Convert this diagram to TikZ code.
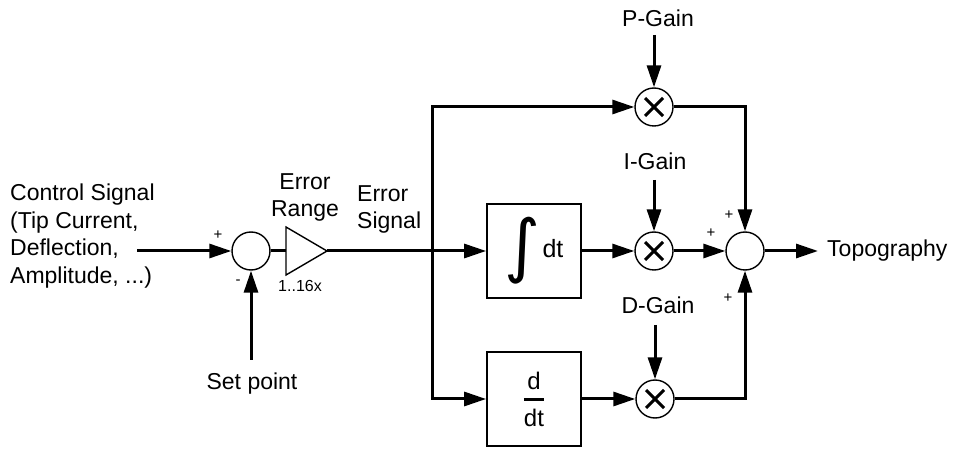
\documentclass[tikz,border=0pt]{standalone}
\usepackage{amsmath}
\usepackage{graphicx}
\usepackage{fontspec}
\setmainfont{Liberation Sans}
\newfontfamily\intfont{DejaVu Sans}
\usetikzlibrary{arrows.meta}
\begin{document}
\begin{tikzpicture}[x=1pt,y=-1pt,
  wire/.style={line width=3pt},
  arr/.style={line width=3pt,-{Triangle[length=22pt,width=14pt]}},
  junc/.style={circle,draw,line width=1.4pt,minimum size=38pt,inner sep=0pt},
  mult/.style={junc,path picture={
    \draw[line width=3pt] ([shift={(-9pt,-9pt)}]path picture bounding box.center) -- ([shift={(9pt,9pt)}]path picture bounding box.center);
    \draw[line width=3pt] ([shift={(-9pt,9pt)}]path picture bounding box.center) -- ([shift={(9pt,-9pt)}]path picture bounding box.center);}},
  blk/.style={draw,line width=1.8pt,minimum size=94pt,inner sep=0pt},
  txt/.style={font=\fontsize{23}{27.4}\selectfont,inner sep=0pt},
  small/.style={font=\fontsize{16}{16}\selectfont,inner sep=0pt},
  sign/.style={font=\fontsize{15}{15}\selectfont,inner sep=0pt}]
\useasboundingbox[fill=white] (0,0) rectangle (959,454);

% junctions and blocks
\node[junc] (s1) at (251,251) {};
\node[junc] (s2) at (745,251) {};
\node[mult] (mp) at (654,107) {};
\node[mult] (mi) at (654,251) {};
\node[mult] (md) at (655,399) {};
\node[blk] (bi) at (534,251) {\fontsize{25}{25}\selectfont$\vcenter{\hbox{\resizebox*{!}{67pt}{\intfont ∫}}}$\kern2pt dt};
\node[blk] (bd) at (534,399) {\fontsize{24}{24}\selectfont$\genfrac{}{}{2.6pt}{0}{\mbox{d}}{\mbox{dt}}$};

% amplifier triangle
\draw[line width=1.4pt] (286,227) -- (327,251) -- (286,275) -- cycle;
\coordinate (ampin) at (286,251);
\coordinate (ampout) at (327,251);
\coordinate (br) at (432,251);

% texts
\node[txt,anchor=north west,align=left] (ctl) at (10,184) {Control Signal\\(Tip Current,\\Deflection,\\Amplitude, ...)};
\node[txt,anchor=north,align=center] (er) at (305,173) {Error\\Range};
\node[txt,anchor=north west,align=left] (es) at (357,185) {Error\\Signal};
\node[txt,anchor=base] (sp) at (252,390) {Set point};
\node[small,anchor=base] (gain) at (300,292) {1..16x};
\node[txt,anchor=base] (pg) at (658,27) {P-Gain};
\node[txt,anchor=base] (ig) at (655,170) {I-Gain};
\node[txt,anchor=base] (dg) at (658,314) {D-Gain};
\node[txt,anchor=base west] (topo) at (827,257) {Topography};

\node[sign] at (218,235) {+};
\node[sign] at (238,282) {-};
\node[sign] at (729,215) {+};
\node[sign] at (711,233) {+};
\node[sign] at (728,298) {+};

% free ends
\coordinate (cs) at (137,251);
\coordinate (spe) at (251,360);
\coordinate (pgs) at (654,35);
\coordinate (igs) at (654,180);
\coordinate (dgs) at (655,325);
\coordinate (tpe) at (818,251);

% connectors
\draw[arr] (cs) -- (s1);
\draw[arr] (spe) -- (s1);
\draw[wire] (s1) -- (ampin);
\draw[arr] (ampout) -- (bi);
\draw[arr] (br) |- (mp);
\draw[arr] (br) |- (bd);
\draw[arr] (bi) -- (mi);
\draw[arr] (bd) -- (md);
\draw[arr] (pgs) -- (mp);
\draw[arr] (igs) -- (mi);
\draw[arr] (dgs) -- (md);
\draw[arr] (mp) -| (s2);
\draw[arr] (mi) -- (s2);
\draw[arr] (md) -| (s2);
\draw[arr] (s2) -- (tpe);
\end{tikzpicture}
\end{document}
